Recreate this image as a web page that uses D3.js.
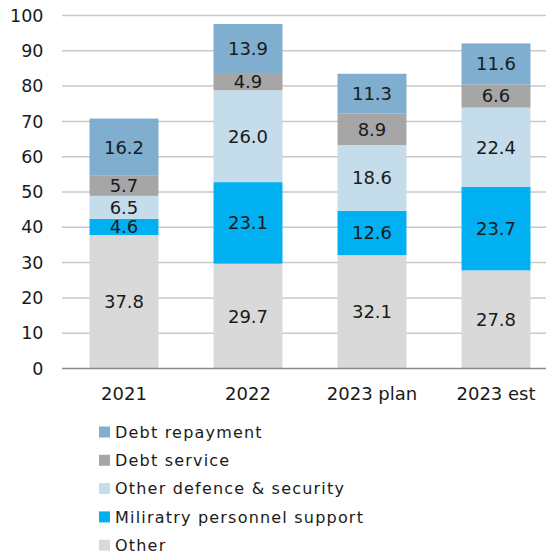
<!DOCTYPE html>
<html>
<head>
<meta charset="utf-8">
<script src="https://cdn.jsdelivr.net/npm/d3@7/dist/d3.min.js"></script>
<style>
  html, body { margin: 0; padding: 0; background: #fff; }
  svg { display: block; font-family: "DejaVu Sans", Verdana, sans-serif; }
</style>
</head>
<body>
<svg id="chart" width="546" height="555"></svg>
<script>
// Spending categories (x axis)
const categories = ["2021", "2022", "2023 plan", "2023 est"];

// Series, bottom to top of each stack
const seriesNames = ["Other", "Miliratry personnel support", "Other defence & security", "Debt service", "Debt repayment"];
const other = [37.8, 29.7, 32.1, 27.8];
const militaryPersonnel = [4.6, 23.1, 12.6, 23.7];
const otherDefence = [6.5, 26.0, 18.6, 22.4];
const debtService = [5.7, 4.9, 8.9, 6.6];
const debtRepayment = [16.2, 13.9, 11.3, 11.6];

const yTicks = [0, 10, 20, 30, 40, 50, 60, 70, 80, 90, 100];

const colors = ["#D9D9D9", "#00B0F0", "#C5DCEA", "#A6A6A6", "#7FAECE"];
const seriesValues = [other, militaryPersonnel, otherDefence, debtService, debtRepayment];

const rows = categories.map((c, i) => {
  const r = { category: c };
  seriesNames.forEach((s, k) => { r[s] = seriesValues[k][i]; });
  return r;
});

const stacked = d3.stack().keys(seriesNames)(rows);

const svg = d3.select("#chart");

const x = d3.scaleBand()
  .domain(categories)
  .range([62, 558])
  .paddingInner(0.444)
  .paddingOuter(0.222);

const y = d3.scaleLinear().domain([0, 100]).range([368.5, 15.5]);

// Gridlines
svg.append("g")
  .selectAll("line")
  .data(yTicks.filter(t => t > 0))
  .join("line")
  .attr("x1", 62).attr("x2", 546)
  .attr("y1", d => y(d)).attr("y2", d => y(d))
  .attr("stroke", "#C9C9C9")
  .attr("stroke-width", 1.5);

// Y axis labels
const yAxis = svg.append("g")
  .attr("transform", "translate(62,0)")
  .call(d3.axisLeft(y).tickValues(yTicks).tickSize(0).tickPadding(18.5));
yAxis.select(".domain").remove();
yAxis.selectAll("text")
  .attr("font-size", 17.5)
  .attr("fill", "#1a1a1a")
  .attr("font-family", "DejaVu Sans, Verdana, sans-serif");

// Stacked bars
const layers = svg.append("g")
  .selectAll("g")
  .data(stacked)
  .join("g")
  .attr("fill", (d, i) => colors[i]);

layers.selectAll("rect")
  .data(d => d)
  .join("rect")
  .attr("x", d => x(d.data.category))
  .attr("width", x.bandwidth())
  .attr("y", d => y(d[1]))
  .attr("height", d => y(d[0]) - y(d[1]));

// Value labels centered in each segment
layers.selectAll("text")
  .data(d => d.map(v => ({ v, key: d.key })))
  .join("text")
  .attr("x", d => x(d.v.data.category) + x.bandwidth() / 2)
  .attr("y", d => y((d.v[0] + d.v[1]) / 2))
  .attr("dy", "0.36em")
  .attr("text-anchor", "middle")
  .attr("font-size", 18)
  .attr("fill", "#1a1a1a")
  .text(d => (d.v[1] - d.v[0]).toFixed(1));

// Baseline
svg.append("line")
  .attr("x1", 62).attr("x2", 546)
  .attr("y1", y(0)).attr("y2", y(0))
  .attr("stroke", "#8C8C8C")
  .attr("stroke-width", 1.5);

// X axis labels
const xAxis = svg.append("g")
  .attr("transform", `translate(0,${y(0)})`)
  .call(d3.axisBottom(x).tickSize(0).tickPadding(18.5));
xAxis.select(".domain").remove();
xAxis.selectAll("text")
  .attr("font-size", 18)
  .attr("fill", "#1a1a1a")
  .attr("font-family", "DejaVu Sans, Verdana, sans-serif");

// Legend, top entry is the top series
const legendOrder = seriesNames.map((s, i) => ({ name: s, color: colors[i] })).reverse();
const legend = svg.append("g")
  .selectAll("g")
  .data(legendOrder)
  .join("g")
  .attr("transform", (d, i) => `translate(99,${432 + i * 28.3})`);

legend.append("rect")
  .attr("x", 0).attr("y", -5.5)
  .attr("width", 11).attr("height", 11)
  .attr("fill", d => d.color);

legend.append("text")
  .attr("x", 16)
  .attr("y", 0)
  .attr("dy", "0.36em")
  .attr("font-size", 16)
  .attr("letter-spacing", 1.2)
  .attr("fill", "#1a1a1a")
  .text(d => d.name);
</script>
</body>
</html>
